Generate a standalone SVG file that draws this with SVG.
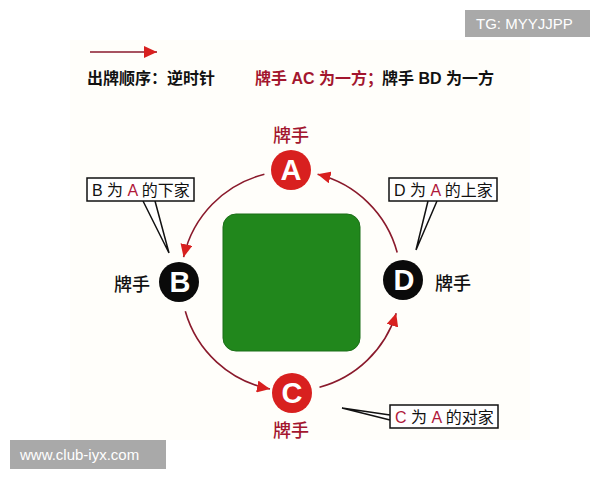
<svg xmlns="http://www.w3.org/2000/svg" width="600" height="480" viewBox="0 0 600 480">
<defs>
<style>
.t{font-family:"Liberation Sans","Noto Sans CJK SC",sans-serif;}
.conn{fill:none;stroke:#8a1a2c;stroke-width:1.6;}
.call{fill:#fff;stroke:#111;stroke-width:1.5;}
.red{fill:#b0183a;}
.hd{font-size:16px;font-weight:bold;}
.lbl{font-size:18px;text-anchor:middle;font-weight:500;}
.ct{font-size:16px;fill:#111;}
.letter{font-family:"Liberation Sans",sans-serif;font-weight:bold;font-size:29px;fill:#fff;text-anchor:middle;}
.wm{fill:#a9a9a9;}
.wmt{font-family:"Liberation Sans",sans-serif;font-size:15px;fill:#fff;}
</style>
<marker id="ah" markerUnits="userSpaceOnUse" markerWidth="14" markerHeight="12" refX="13" refY="6" orient="auto">
<path d="M0,0 L13,6 L0,12 Z" fill="#d8201f"/>
</marker>
</defs>
<rect width="600" height="480" fill="#ffffff"/>
<rect x="70" y="40" width="460" height="400" fill="#fffefa"/>

<!-- legend -->
<g id="legend">
<line x1="90" y1="52" x2="157" y2="52" class="conn" stroke-width="2.2" marker-end="url(#ah)"/>
<text x="87" y="84" class="t hd" fill="#111">出牌顺序：逆时针</text>
<text x="255" y="84" class="t hd" fill="#a3162e">牌手 AC 为一方；</text>
<text x="382" y="84" class="t hd" fill="#111">牌手 BD 为一方</text>
</g>

<!-- table -->
<g id="table">
<rect x="223" y="214" width="137" height="137" rx="13" fill="#21871c" stroke="#1b6f17" stroke-width="1"/>
</g>

<!-- connectors -->
<g id="connectors">
<path class="conn" d="M264.4,174.3 A110,110 0 0 0 183.6,257.2" marker-end="url(#ah)"/>
<path class="conn" d="M185.3,311.3 A110,110 0 0 0 270,389" marker-end="url(#ah)"/>
<path class="conn" d="M319.5,387.2 A110,110 0 0 0 396.2,313.2" marker-end="url(#ah)"/>
<path class="conn" d="M397.2,252.5 A110,110 0 0 0 317.6,174.3" marker-end="url(#ah)"/>
</g>

<!-- nodes -->
<g id="nodeA">
<circle cx="291" cy="170" r="20" fill="#d8201f"/>
<text x="291" y="180" class="letter">A</text>
<text x="291" y="142" class="t lbl" fill="#a3162e">牌手</text>
</g>
<g id="nodeB">
<circle cx="179" cy="282" r="20" fill="#0a0a0a"/>
<text x="180" y="292" class="letter">B</text>
<text x="132" y="291" class="t lbl" fill="#111">牌手</text>
</g>
<g id="nodeC">
<circle cx="292" cy="393" r="20" fill="#d8201f"/>
<text x="292" y="403" class="letter">C</text>
<text x="291" y="437" class="t lbl" fill="#a3162e">牌手</text>
</g>
<g id="nodeD">
<circle cx="403" cy="280" r="20" fill="#0a0a0a"/>
<text x="404" y="290" class="letter">D</text>
<text x="453" y="290" class="t lbl" fill="#111">牌手</text>
</g>

<!-- callouts -->
<g id="calloutB">
<polyline class="call" points="143,201 169,253 155,201"/>
<rect class="call" x="87" y="178" width="107" height="23"/>
<text x="92" y="196" class="t ct">B 为 <tspan class="red">A</tspan> 的下家</text>
</g>
<g id="calloutD">
<polyline class="call" points="428,201 416,250 437,201"/>
<rect class="call" x="389" y="178" width="108" height="23"/>
<text x="394" y="196" class="t ct">D 为 <tspan class="red">A</tspan> 的上家</text>
</g>
<g id="calloutC">
<polyline class="call" points="390,415 342,408 390,420"/>
<rect class="call" x="390" y="405" width="108" height="23"/>
<text x="395" y="423" class="t ct"><tspan class="red">C</tspan> 为 <tspan class="red">A</tspan> 的对家</text>
</g>

<!-- watermarks -->
<rect class="wm" x="465" y="10" width="125" height="27"/>
<text x="476" y="29" class="wmt">TG: MYYJJPP</text>
<rect class="wm" x="10" y="440" width="156" height="29"/>
<text x="20" y="460" class="wmt">www.club-iyx.com</text>
</svg>
